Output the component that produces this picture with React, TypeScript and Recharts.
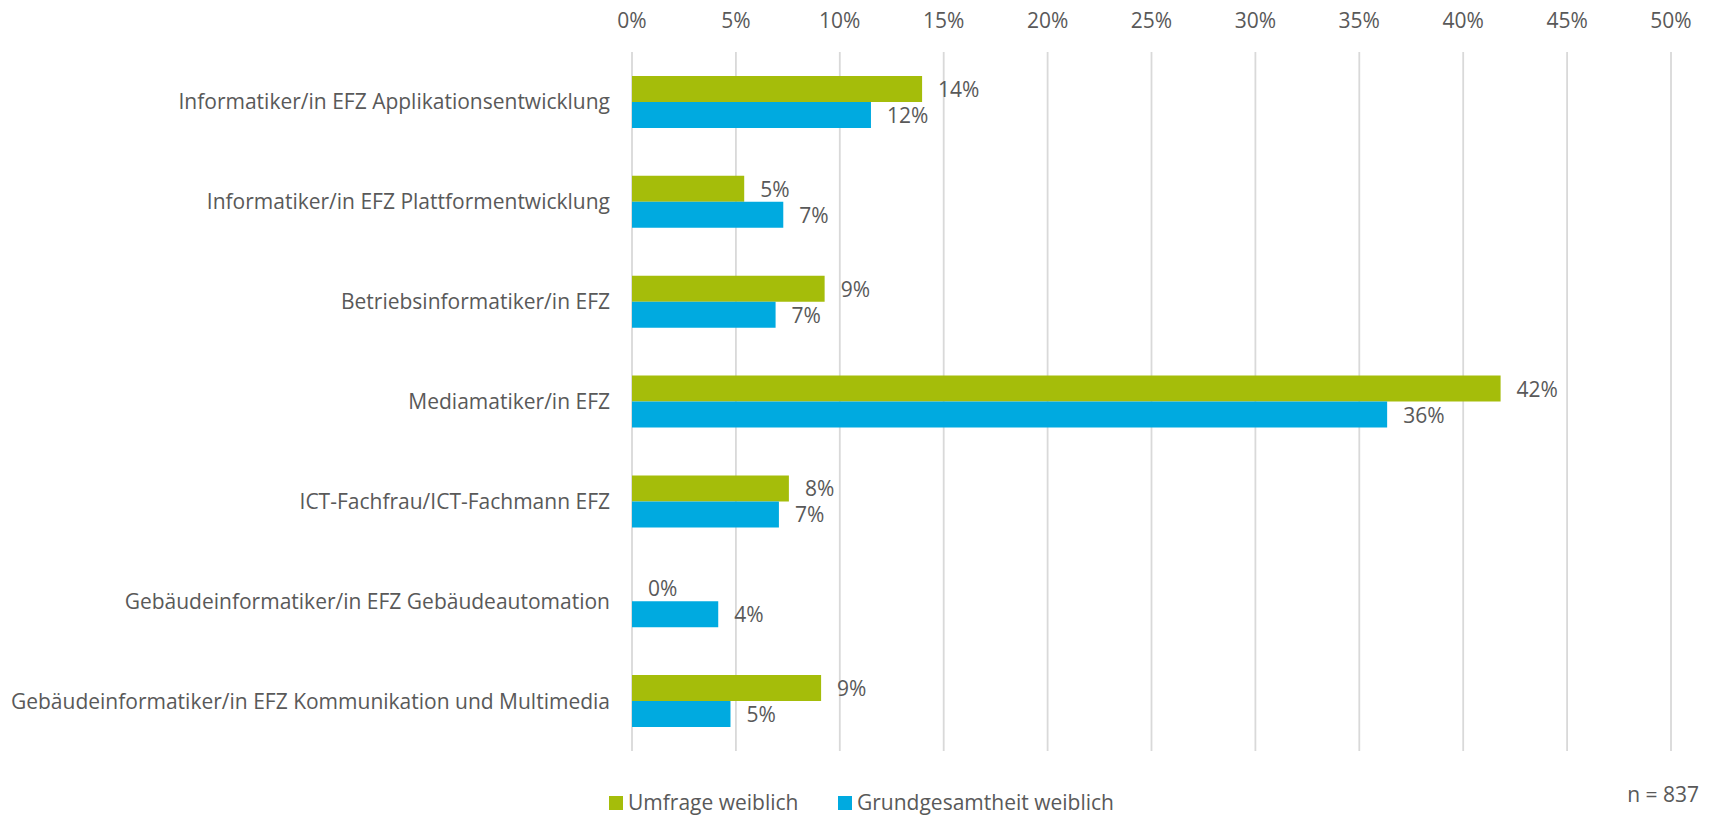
import React from "react";
import {
  BarChart,
  Bar,
  XAxis,
  YAxis,
  CartesianGrid,
  Legend,
  LabelList,
  Cell,
} from "recharts";

const categories = [
  "Informatiker/in EFZ Applikationsentwicklung",
  "Informatiker/in EFZ Plattformentwicklung",
  "Betriebsinformatiker/in EFZ",
  "Mediamatiker/in EFZ",
  "ICT-Fachfrau/ICT-Fachmann EFZ",
  "Gebäudeinformatiker/in EFZ Gebäudeautomation",
  "Gebäudeinformatiker/in EFZ Kommunikation und Multimedia",
];
const umfrageWeiblich = [13.96, 5.4, 9.27, 41.8, 7.55, 0, 9.1];
const grundgesamtheitWeiblich = [11.5, 7.28, 6.91, 36.34, 7.07, 4.15, 4.74];
const xTicks = [0, 5, 10, 15, 20, 25, 30, 35, 40, 45, 50];
const seriesNames = ["Umfrage weiblich", "Grundgesamtheit weiblich"];
const note = "n = 837";

const data = categories.map((name, i) => ({
  name,
  umfrage: umfrageWeiblich[i],
  grund: grundgesamtheitWeiblich[i],
}));

const FONT = "'Open Sans', sans-serif";
const FS = 21;
const TEXT = "#595959";
const GREEN = "#A5BD0A";
const BLUE = "#00AAE0";
const COLORS = [GREEN, BLUE];
const LEGEND_X = [609, 838];

const fmt = (v: any) => `${Math.round(Number(v))}%`;

const renderValueLabel = (props: any) => {
  const { x, y, width, height, value } = props;
  const w = Number(value) === 0 ? 0 : Number(width || 0);
  const xx = Number(x) + w + 16;
  const yy = Number(y) + Number(height || 0) / 2;
  return (
    <text
      x={xx}
      y={yy}
      fill={TEXT}
      fontSize={FS}
      fontFamily={FONT}
      textAnchor="start"
      dominantBaseline="central"
    >
      {fmt(value)}
    </text>
  );
};

const renderLegend = () => (
  <div
    style={{
      position: "relative",
      width: 1709,
      height: 30,
      fontFamily: FONT,
      fontSize: FS,
      color: TEXT,
    }}
  >
    {seriesNames.map((n, i) => (
      <React.Fragment key={n}>
        <span
          style={{
            position: "absolute",
            left: LEGEND_X[i],
            top: 11,
            width: 14,
            height: 14,
            background: COLORS[i],
          }}
        />
        <span
          style={{
            position: "absolute",
            left: LEGEND_X[i] + 19,
            top: 2,
            lineHeight: "30px",
            whiteSpace: "nowrap",
          }}
        >
          {n}
        </span>
      </React.Fragment>
    ))}
  </div>
);

export default function App() {
  return (
    <div
      style={{
        position: "absolute",
        left: 0,
        top: 0,
        width: 1709,
        height: 815,
        background: "#fff",
        fontFamily: FONT,
      }}
    >
      <BarChart
        width={1709}
        height={815}
        data={data}
        layout="vertical"
        margin={{ top: 22, right: 38, left: 0, bottom: 34 }}
        barCategoryGap="24%"
        barGap={0}
      >
        <CartesianGrid
          horizontal={false}
          vertical={true}
          stroke="#D9D9D9"
          strokeWidth={1.8}
        />
        <XAxis
          type="number"
          orientation="top"
          domain={[0, 50]}
          ticks={xTicks}
          tickFormatter={(v: number) => `${v}%`}
          axisLine={false}
          tickLine={false}
          tickSize={6}
          tickMargin={18}
          height={30}
          interval={0}
          tick={{ fill: TEXT, fontSize: FS, fontFamily: FONT }}
        />
        <YAxis
          type="category"
          dataKey="name"
          width={632}
          axisLine={false}
          tickLine={false}
          tickSize={6}
          tickMargin={16}
          interval={0}
          tick={{ fill: TEXT, fontSize: FS, fontFamily: FONT }}
        />
        <Legend
          verticalAlign="bottom"
          align="left"
          content={renderLegend}
          wrapperStyle={{ bottom: 0, left: 0, width: 1709, height: 30 }}
        />
        <Bar
          dataKey="umfrage"
          name={seriesNames[0]}
          fill={GREEN}
          minPointSize={(v: any) => (Number(v) === 0 ? 0.01 : 0)}
          isAnimationActive={false}
        >
          {umfrageWeiblich.map((v, i) => (
            <Cell key={i} fill={v === 0 ? "transparent" : GREEN} />
          ))}
          <LabelList dataKey="umfrage" content={renderValueLabel} />
        </Bar>
        <Bar
          dataKey="grund"
          name={seriesNames[1]}
          fill={BLUE}
          isAnimationActive={false}
        >
          <LabelList dataKey="grund" content={renderValueLabel} />
        </Bar>
      </BarChart>
      <div
        style={{
          position: "absolute",
          right: 10,
          top: 780,
          fontSize: FS,
          color: TEXT,
          fontFamily: FONT,
          whiteSpace: "nowrap",
        }}
      >
        {note}
      </div>
    </div>
  );
}
